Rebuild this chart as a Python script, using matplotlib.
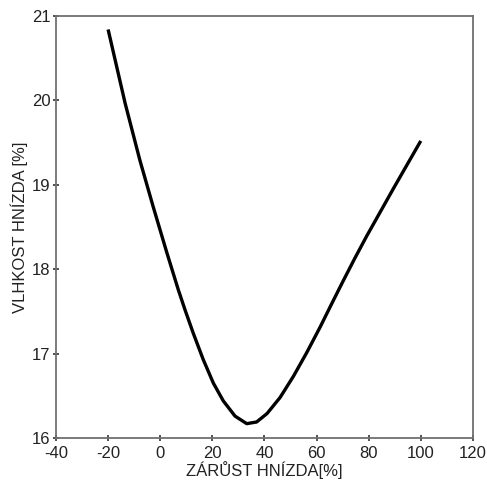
import matplotlib.pyplot as plt

# nest overgrowth vs. nest moisture (fitted curve)
zarust = [-20, -13.5, -7.8, -2.7, 2.5, 6.9, 9.5, 12.7, 16.5, 20.4, 24.2, 28.7,
          33.2, 37.0, 41.0, 46.0, 51.1, 56.2, 61.3, 65.8, 70.2, 74.7, 79.2,
          84.3, 89.4, 94.6, 100]
vlhkost = [20.84, 19.97, 19.29, 18.74, 18.20, 17.76, 17.52, 17.24, 16.93, 16.65,
           16.44, 16.26, 16.17, 16.19, 16.29, 16.48, 16.73, 17.01, 17.31, 17.59,
           17.86, 18.13, 18.39, 18.67, 18.95, 19.23, 19.52]

x_ticks = [-40, -20, 0, 20, 40, 60, 80, 100, 120]
y_ticks = [16, 17, 18, 19, 20, 21]

plt.rcParams['font.family'] = ['Liberation Sans', 'DejaVu Sans']
plt.rcParams['axes.unicode_minus'] = False

fig = plt.figure(figsize=(4.87, 4.84), dpi=100)
ax = fig.add_axes([0.115, 0.095, 0.856, 0.872])

ax.plot(zarust, vlhkost, color='black', linewidth=2.4,
        solid_capstyle='butt', solid_joinstyle='round')

ax.set_xlim(-40, 120)
ax.set_ylim(16, 21)
ax.set_xticks(x_ticks)
ax.set_yticks(y_ticks)

for side in ['left', 'right', 'top', 'bottom']:
    ax.spines[side].set_color('#707070')
    ax.spines[side].set_linewidth(1.3)

ax.tick_params(direction='inout', length=4, width=1.2, color='#333333',
               labelsize=12, labelcolor='#222222')
ax.tick_params(axis='x', pad=3.5)
ax.tick_params(axis='y', pad=2)

ax.set_xlabel('ZÁRŮST HNÍZDA[%]', fontsize=12, color='#222222', labelpad=0)
ax.set_ylabel('VLHKOST HNÍZDA [%]', fontsize=12, color='#222222', labelpad=3)

fig.savefig('out.png', dpi=100)
